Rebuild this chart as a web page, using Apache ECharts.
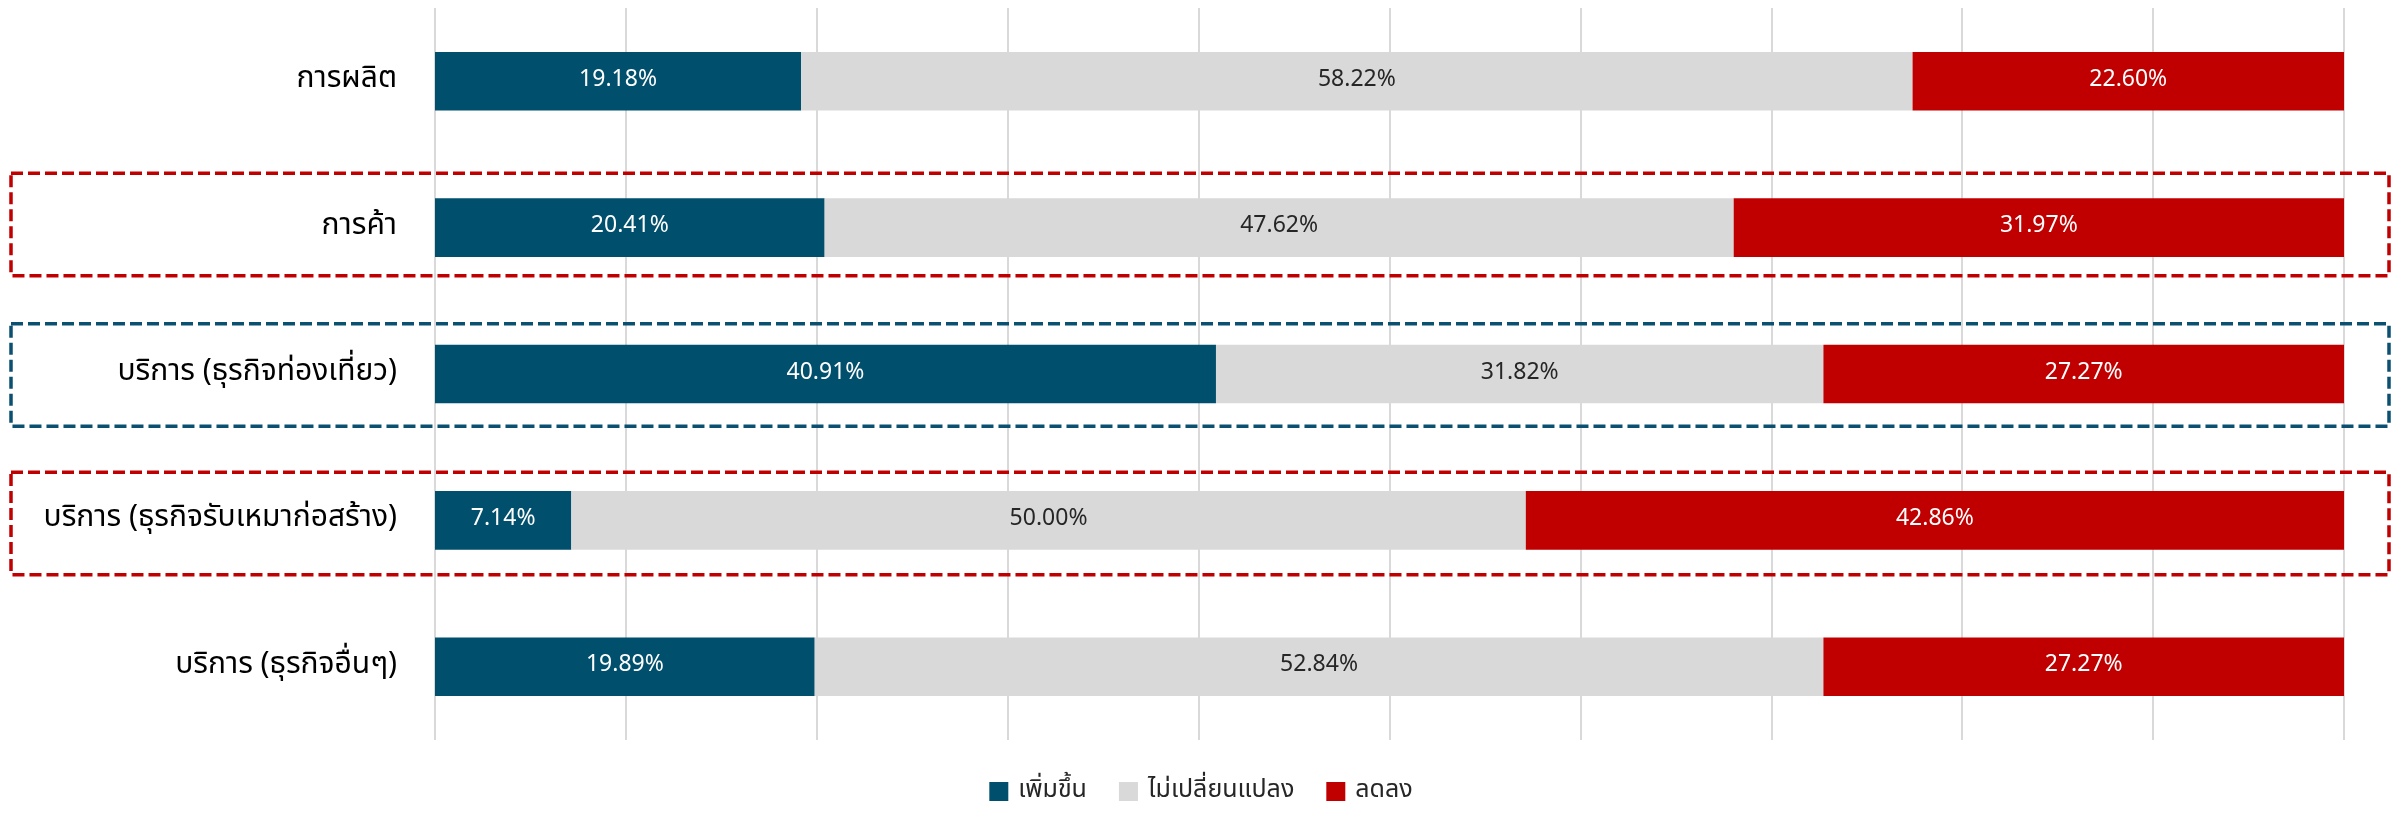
<!DOCTYPE html>
<html>
<head>
<meta charset="utf-8">
<script src="https://cdn.jsdelivr.net/npm/echarts@6/dist/echarts.min.js"></script>
<style>
  html, body { margin: 0; padding: 0; background: #fff; }
  #main { width: 2402px; height: 814px; }
</style>
</head>
<body>
<div id="main"></div>
<script>
// หมวดธุรกิจ
var categories = ['การผลิต', 'การค้า', 'บริการ (ธุรกิจท่องเที่ยว)', 'บริการ (ธุรกิจรับเหมาก่อสร้าง)', 'บริการ (ธุรกิจอื่นๆ)'];
var seriesNames = ['เพิ่มขึ้น', 'ไม่เปลี่ยนแปลง', 'ลดลง'];
var increase = [19.18, 20.41, 40.91, 7.14, 19.89];
var unchanged = [58.22, 47.62, 31.82, 50.00, 52.84];
var decrease = [22.60, 31.97, 27.27, 42.86, 27.27];
// กรอบเส้นประ: หมวดที่ถูกไฮไลต์
var highlightCats = ['การค้า', 'บริการ (ธุรกิจท่องเที่ยว)', 'บริการ (ธุรกิจรับเหมาก่อสร้าง)'];
var highlightColors = ['#C00000', '#0B5070', '#C00000'];

var fontFamily = "'Noto Sans Thai', 'Leelawadee UI', Tahoma, 'Noto Sans', sans-serif";
var colors = ['#004F6D', '#D9D9D9', '#C00000'];
var labelColors = ['#ffffff', '#262626', '#ffffff'];
var boxShift = [-3, 1, 3];

var chart = echarts.init(document.getElementById('main'));

var makeSeries = function (i, data) {
    return {
        name: seriesNames[i],
        type: 'bar',
        stack: 'total',
        barWidth: '40%',
        data: data,
        itemStyle: { color: colors[i] },
        label: {
            show: true,
            position: 'inside',
            color: labelColors[i],
            fontSize: 23,
            fontFamily: fontFamily,
            formatter: function (p) {
                return p.value.toFixed(2) + '%';
            }
        }
    };
};

var option = {
    animation: false,
    color: colors,
    grid: { left: 435, right: 58, top: 8, bottom: 74, containLabel: false },
    legend: {
        bottom: 5,
        left: 'center',
        itemWidth: 19,
        itemHeight: 19,
        itemGap: 32,
        icon: 'rect',
        textStyle: { fontSize: 25, color: '#262626', fontFamily: fontFamily, padding: [0, 0, 0, 5] },
        data: seriesNames
    },
    xAxis: {
        type: 'value',
        min: 0,
        max: 100,
        interval: 10,
        axisLabel: { show: false },
        axisLine: { show: false },
        axisTick: { show: false },
        splitLine: { show: true, lineStyle: { color: '#D9D9D9', width: 2 } }
    },
    yAxis: {
        type: 'category',
        inverse: true,
        data: categories,
        axisLine: { show: false },
        axisTick: { show: false },
        axisLabel: { fontSize: 30, color: '#000000', margin: 38, fontFamily: fontFamily }
    },
    series: [
        makeSeries(0, increase),
        makeSeries(1, unchanged),
        makeSeries(2, decrease)
    ]
};
chart.setOption(option);

// วาดกรอบเส้นประรอบแถวที่เน้น
var boxes = [];
var bandH = chart.getModel().getComponent('yAxis', 0).axis.getBandWidth();
for (var i = 0; i < highlightCats.length; i++) {
    var cy = chart.convertToPixel({ yAxisIndex: 0 }, highlightCats[i]) + boxShift[i];
    var h = bandH * 0.7;
    boxes.push({
        type: 'rect',
        silent: true,
        z: 10,
        shape: { x: 11, y: cy - h / 2, width: chart.getWidth() - 24, height: h },
        style: { fill: 'none', stroke: highlightColors[i], lineWidth: 3.5, lineDash: [12, 5] }
    });
}
chart.setOption({ graphic: boxes });
</script>
</body>
</html>
